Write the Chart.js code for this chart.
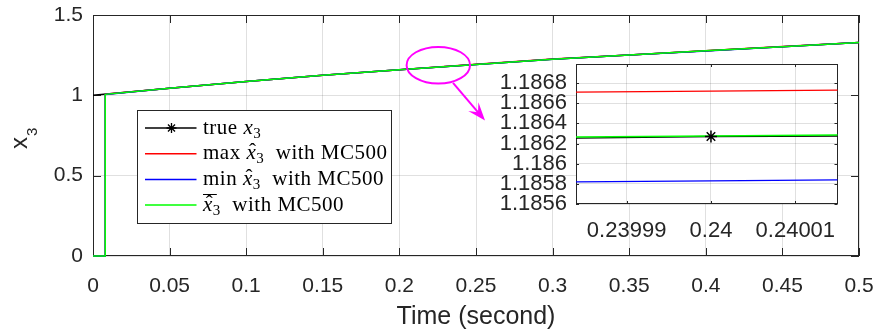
<!DOCTYPE html>
<html>
<head>
<meta charset="utf-8">
<script src="https://cdn.jsdelivr.net/npm/chart.js@4.4.1/dist/chart.umd.min.js"></script>
<style>
  body { margin: 0; background: #fff; }
  #wrap { position: relative; width: 879px; height: 333px; }
  #main { position: absolute; left: 0; top: 0; }
  #inset { position: absolute; left: 480px; top: 50px; }
</style>
</head>
<body>
<div id="wrap">
  <canvas id="main" width="879" height="333"></canvas>
  <canvas id="inset" width="365" height="195"></canvas>
</div>
<script>
const colors = {
  black: "#000000",
  red: "#FF0000",
  blue: "#0000FF",
  green: "#00FF00",
  axis: "#262626",
  grid: "rgba(38,38,38,0.14)",
  magenta: "#FF00FF",
};

// main plot data
const timeTicks = [0, 0.05, 0.1, 0.15, 0.2, 0.25, 0.3, 0.35, 0.4, 0.45, 0.5];
const valueTicks = [0, 0.5, 1, 1.5];

const timeTrue = [0, 0.05, 0.1, 0.15, 0.2, 0.25, 0.3, 0.35, 0.4, 0.45, 0.5];
const x3True = [1.0, 1.044, 1.086, 1.125, 1.1595, 1.1925, 1.225, 1.251, 1.277, 1.303, 1.329];

const timeEst = [0, 0.008, 0.008, 0.05, 0.1, 0.15, 0.2, 0.25, 0.3, 0.35, 0.4, 0.45, 0.5];
const x3Max = [0, 0, 1.0064, 1.0444, 1.0864, 1.1254, 1.1599, 1.1929, 1.2254, 1.2514, 1.2774, 1.3034, 1.3294];
const x3Min = [0, 0, 1.0056, 1.0436, 1.0856, 1.1246, 1.1591, 1.1921, 1.2246, 1.2506, 1.2766, 1.3026, 1.3286];
const x3Mean = [0, 0, 1.006, 1.044, 1.086, 1.125, 1.1595, 1.1925, 1.225, 1.251, 1.277, 1.303, 1.329];

// zoomed inset data
const zoomTimeTicks = [0.23999, 0.24, 0.24001];
const zoomValueTicks = [1.1856, 1.1858, 1.186, 1.1862, 1.1864, 1.1866, 1.1868];
const zoomTime = [0.239984, 0.24, 0.240015];
const zoomTrue = [1.186255, 1.18627, 1.186275];
const zoomMax = [1.18671, 1.18672, 1.18673];
const zoomMin = [1.18582, 1.18583, 1.18584];
const zoomMean = [1.186265, 1.186276, 1.186285];

const pts = (xs, ys) => xs.map((x, i) => ({ x: x, y: ys[i] }));

const sansFamily = "'Liberation Sans', Arial, Helvetica, sans-serif";

// no automatic label padding, keeps the plot box where it belongs
function noPad(s) {
  s.paddingTop = 0;
  s.paddingBottom = 0;
  s.paddingLeft = 0;
  s.paddingRight = 0;
}

function drawStar(ctx, x, y, r) {
  ctx.beginPath();
  for (let k = 0; k < 4; k++) {
    const a = (k * Math.PI) / 4;
    ctx.moveTo(x - r * Math.sin(a), y - r * Math.cos(a));
    ctx.lineTo(x + r * Math.sin(a), y + r * Math.cos(a));
  }
  ctx.stroke();
}

// box + inward ticks, MATLAB style
const boxPlugin = {
  id: "matlabBox",
  beforeDatasetsDraw(chart, args, opts) {
    const { ctx, chartArea: a, scales } = chart;
    const len = opts.tickLength || 8;
    ctx.save();
    ctx.strokeStyle = colors.axis;
    ctx.lineWidth = 1;
    ctx.beginPath();
    scales.x.ticks.forEach((t) => {
      const px = Math.round(scales.x.getPixelForValue(t.value)) + 0.5;
      ctx.moveTo(px, a.bottom);
      ctx.lineTo(px, a.bottom - len);
      ctx.moveTo(px, a.top);
      ctx.lineTo(px, a.top + len);
    });
    scales.y.ticks.forEach((t) => {
      const py = Math.round(scales.y.getPixelForValue(t.value)) + 0.5;
      ctx.moveTo(a.left, py);
      ctx.lineTo(a.left + len, py);
      ctx.moveTo(a.right, py);
      ctx.lineTo(a.right - len, py);
    });
    ctx.stroke();
    ctx.strokeRect(Math.round(a.left) + 0.5, Math.round(a.top) + 0.5,
      Math.round(a.right - a.left) - 1, Math.round(a.bottom - a.top) - 1);
    ctx.restore();
  },
};

const whiteAreaPlugin = {
  id: "whiteArea",
  beforeDraw(chart) {
    const { ctx, chartArea: a } = chart;
    ctx.save();
    ctx.fillStyle = "#fff";
    ctx.fillRect(a.left, a.top, a.right - a.left, a.bottom - a.top);
    ctx.restore();
  },
};

// y title "x3" with a real subscript
const yTitlePlugin = {
  id: "yTitle",
  afterDraw(chart) {
    const ctx = chart.ctx;
    ctx.save();
    ctx.translate(27, 149);
    ctx.rotate(-Math.PI / 2);
    ctx.fillStyle = colors.axis;
    ctx.textBaseline = "alphabetic";
    ctx.font = "24px " + sansFamily;
    ctx.fillText("x", 0, 0);
    const w = ctx.measureText("x").width;
    ctx.font = "15px " + sansFamily;
    ctx.fillText("3", w + 1, 10);
    ctx.restore();
  },
};

// magnifier ellipse + arrow
const zoomMarkPlugin = {
  id: "zoomMark",
  afterDatasetsDraw(chart) {
    const { ctx, scales } = chart;
    const sx = scales.x, sy = scales.y;
    const cx = sx.getPixelForValue(0.2254), cy = sy.getPixelForValue(1.1875);
    const rx = sx.getPixelForValue(0.2254 + 0.0207) - cx;
    const ry = cy - sy.getPixelForValue(1.1875 + 0.114);
    ctx.save();
    ctx.strokeStyle = colors.magenta;
    ctx.fillStyle = colors.magenta;
    ctx.lineWidth = 2;
    ctx.beginPath();
    ctx.ellipse(cx, cy, rx, ry, 0, 0, 2 * Math.PI);
    ctx.stroke();

    const x0 = sx.getPixelForValue(0.235), y0 = sy.getPixelForValue(1.077);
    const x1 = sx.getPixelForValue(0.2559), y1 = sy.getPixelForValue(0.844);
    const L = Math.hypot(x1 - x0, y1 - y0);
    const ux = (x1 - x0) / L, uy = (y1 - y0) / L;
    const nx = -uy, ny = ux;
    const hl = 18, hw = 6.7;
    ctx.beginPath();
    ctx.moveTo(x0, y0);
    ctx.lineTo(x1 - ux * 10, y1 - uy * 10);
    ctx.stroke();
    ctx.beginPath();
    ctx.moveTo(x1, y1);
    ctx.lineTo(x1 - ux * hl + nx * hw, y1 - uy * hl + ny * hw);
    ctx.lineTo(x1 - ux * hl * 0.6, y1 - uy * hl * 0.6);
    ctx.lineTo(x1 - ux * hl - nx * hw, y1 - uy * hl - ny * hw);
    ctx.closePath();
    ctx.fill();
    ctx.restore();
  },
};

// legend with LaTeX-like labels
const legendPlugin = {
  id: "texLegend",
  afterDraw(chart) {
    const ctx = chart.ctx;
    const bx = 137.5, by = 110.5, bw = 254, bh = 113;
    const serif = "'Liberation Serif', 'Times New Roman', serif";
    ctx.save();
    ctx.fillStyle = "#fff";
    ctx.fillRect(bx, by, bw, bh);
    ctx.strokeStyle = colors.axis;
    ctx.lineWidth = 1;
    ctx.strokeRect(bx, by, bw, bh);

    const rows = [
      { color: colors.black, star: true,
        parts: [{ t: "true " }, { t: "x", it: true }, { t: "3", sub: true }] },
      { color: colors.red,
        parts: [{ t: "max " }, { t: "x", it: true, hat: true }, { t: "3", sub: true }, { t: "  with MC500" }] },
      { color: colors.blue,
        parts: [{ t: "min " }, { t: "x", it: true, hat: true }, { t: "3", sub: true }, { t: "  with MC500" }] },
      { color: colors.green,
        parts: [{ t: "x", it: true, hat: true, bar: true }, { t: "3", sub: true }, { t: "  with MC500" }] },
    ];

    rows.forEach((row, i) => {
      const ry = by + 17.5 + i * 25.7;
      ctx.strokeStyle = row.color;
      ctx.lineWidth = 1.5;
      ctx.beginPath();
      ctx.moveTo(bx + 7.5, ry);
      ctx.lineTo(bx + 59, ry);
      ctx.stroke();
      if (row.star) {
        ctx.strokeStyle = colors.black;
        ctx.lineWidth = 1.3;
        drawStar(ctx, bx + 34, ry, 5);
      }
      let x = bx + 65.5;
      const base = ry + 5.5;
      ctx.fillStyle = "#000";
      ctx.textBaseline = "alphabetic";
      ctx.textAlign = "left";
      ctx.letterSpacing = "0.5px";
      row.parts.forEach((p) => {
        if (p.sub) {
          ctx.font = "15px " + serif;
          ctx.fillText(p.t, x, base + 4);
        } else {
          ctx.font = (p.it ? "italic " : "") + "21px " + serif;
          ctx.fillText(p.t, x, base);
        }
        const w = ctx.measureText(p.t).width;
        if (p.hat) {
          ctx.font = "21px " + serif;
          ctx.textAlign = "center";
          ctx.fillText("\u02C6", x + w / 2 + 1.5, base - 1);
          ctx.textAlign = "left";
        }
        if (p.bar) {
          ctx.strokeStyle = "#000";
          ctx.lineWidth = 1;
          ctx.beginPath();
          ctx.moveTo(x, Math.round(base - 17) + 0.5);
          ctx.lineTo(x + w + 4, Math.round(base - 17) + 0.5);
          ctx.stroke();
        }
        x += w;
      });
    });
    ctx.restore();
  },
};

function renderMainChart() {
  const datasets = [
    { label: "true x3", data: pts(timeTrue, x3True), borderColor: colors.black, borderWidth: 1.5, order: 4 },
    { label: "max x3 with MC500", data: pts(timeEst, x3Max), borderColor: colors.red, borderWidth: 1.5, order: 3 },
    { label: "min x3 with MC500", data: pts(timeEst, x3Min), borderColor: colors.blue, borderWidth: 1.5, order: 2 },
    { label: "mean x3 with MC500", data: pts(timeEst, x3Mean), borderColor: colors.green, borderWidth: 1.5, order: 1 },
  ];
  datasets.forEach((d) => {
    d.pointRadius = 0;
    d.tension = 0;
    d.fill = false;
    d.clip = false;
  });

  const config = {
    type: "line",
    data: { datasets: datasets },
    options: {
      responsive: false,
      animation: false,
      devicePixelRatio: 1,
      layout: { padding: { top: 15, right: 20, left: 0, bottom: 0 } },
      plugins: {
        legend: { display: false },
        tooltip: { enabled: false },
        matlabBox: { tickLength: 8 },
      },
      scales: {
        x: {
          type: "linear",
          min: 0,
          max: 0.5,
          afterBuildTicks: (s) => { s.ticks = timeTicks.map((v) => ({ value: v })); },
          afterFit: (s) => { s.height = 77; noPad(s); },
          grid: { color: colors.grid, drawTicks: false },
          border: { display: false },
          ticks: {
            padding: 18,
            color: colors.axis,
            font: { family: sansFamily, size: 21 },
            maxRotation: 0,
            autoSkip: false,
            callback: (v) => String(+Number(v).toFixed(2)),
          },
          title: {
            display: true,
            text: "Time (second)",
            color: colors.axis,
            font: { family: sansFamily, size: 25 },
            padding: { top: 0, bottom: 1 },
          },
        },
        y: {
          min: 0,
          max: 1.5,
          afterBuildTicks: (s) => { s.ticks = valueTicks.map((v) => ({ value: v })); },
          afterFit: (s) => { s.width = 93; noPad(s); },
          grid: { color: colors.grid, drawTicks: false },
          border: { display: false },
          ticks: {
            padding: 10,
            color: colors.axis,
            font: { family: sansFamily, size: 21 },
            callback: (v) => String(+Number(v).toFixed(2)),
          },
        },
      },
    },
    plugins: [boxPlugin, zoomMarkPlugin, legendPlugin, yTitlePlugin],
  };

  const myChart = new Chart(document.getElementById("main"), config);
}

function renderInsetChart() {
  const datasets = [
    { label: "true x3", data: pts(zoomTime, zoomTrue), borderColor: colors.black, borderWidth: 1.3, order: 4, pointRadius: 0 },
    { label: "max x3 with MC500", data: pts(zoomTime, zoomMax), borderColor: colors.red, borderWidth: 1.3, order: 3, pointRadius: 0 },
    { label: "min x3 with MC500", data: pts(zoomTime, zoomMin), borderColor: colors.blue, borderWidth: 1.3, order: 2, pointRadius: 0 },
    { label: "mean x3 with MC500", data: pts(zoomTime, zoomMean), borderColor: colors.green, borderWidth: 1.5, order: 1, pointRadius: 0 },
    {
      label: "true x3 marker",
      data: [{ x: zoomTime[1], y: zoomTrue[1] }],
      showLine: false,
      pointStyle: "star",
      pointRadius: 6,
      borderColor: colors.black,
      backgroundColor: colors.black,
      pointBorderWidth: 1.5,
      order: 0,
    },
  ];
  datasets.forEach((d) => { d.tension = 0; d.fill = false; d.clip = false; });

  const config = {
    type: "line",
    data: { datasets: datasets },
    options: {
      responsive: false,
      animation: false,
      devicePixelRatio: 1,
      layout: { padding: { top: 14, right: 5, left: 0, bottom: 0 } },
      plugins: {
        legend: { display: false },
        tooltip: { enabled: false },
        matlabBox: { tickLength: 3 },
      },
      scales: {
        x: {
          type: "linear",
          min: 0.239984,
          max: 0.240015,
          afterBuildTicks: (s) => { s.ticks = zoomTimeTicks.map((v) => ({ value: v })); },
          afterFit: (s) => { s.height = 41; noPad(s); },
          grid: { color: colors.grid, drawTicks: false },
          border: { display: false },
          ticks: {
            padding: 14,
            color: colors.axis,
            font: { family: sansFamily, size: 22 },
            maxRotation: 0,
            autoSkip: false,
            callback: (v) => String(+Number(v).toFixed(5)),
          },
        },
        y: {
          min: 1.1856,
          max: 1.18699,
          afterBuildTicks: (s) => { s.ticks = zoomValueTicks.map((v) => ({ value: v })); },
          afterFit: (s) => { s.width = 96; noPad(s); },
          grid: { color: colors.grid, drawTicks: false },
          border: { display: false },
          ticks: {
            padding: 9,
            color: colors.axis,
            font: { family: sansFamily, size: 22 },
            autoSkip: false,
            callback: (v) => String(+Number(v).toFixed(4)),
          },
        },
      },
    },
    plugins: [whiteAreaPlugin, boxPlugin],
  };

  const myChart = new Chart(document.getElementById("inset"), config);
}

renderMainChart();
renderInsetChart();
</script>
</body>
</html>
